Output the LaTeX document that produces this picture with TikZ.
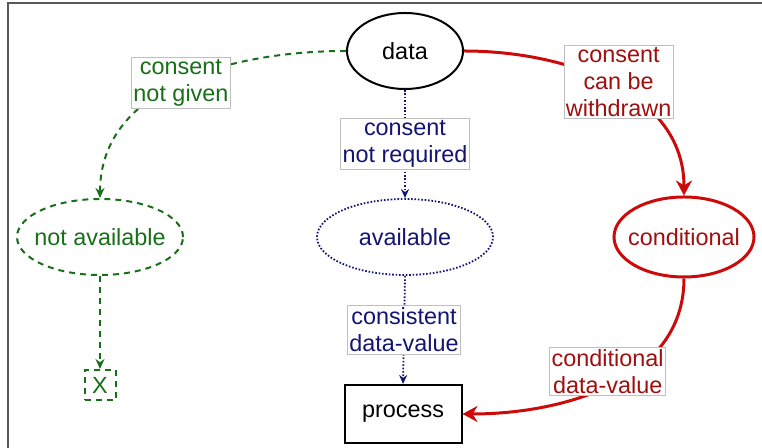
\documentclass[tikz,border=0pt]{standalone}
\usepackage{fontspec}
\setmainfont{Liberation Sans}
\usetikzlibrary{arrows.meta,shapes.geometric}

\definecolor{nogreen}{RGB}{25,110,25}
\definecolor{reqnavy}{RGB}{20,20,115}
\definecolor{wdred}{RGB}{205,10,10}
\definecolor{wdtext}{RGB}{160,15,15}

\begin{document}
\begin{tikzpicture}[x=0.5pt, y=0.5pt,
		font=\fontsize{11.7}{13.5}\selectfont,
		state/.style={ellipse, inner xsep=-4pt, inner ysep=0pt},
		edgelabel/.style={draw=black!25, solid, line width=0.4pt, fill=white, inner sep=1pt, align=center},
		nogo/.style={draw=nogreen, text=nogreen, dash pattern=on 3pt off 2.5pt, line width=1pt},
		req/.style={draw=reqnavy, text=reqnavy, dash pattern=on 0.8pt off 0.9pt, line width=0.9pt},
		wd/.style={draw=wdred, text=wdtext, line width=1.5pt},
		frame/.style={draw=black!65, line width=1pt}]
		%%%%% START %%%%%
		
		\useasboundingbox (0,0) rectangle (762,448);
		\draw[frame] (8,0) -- (8,445) -- (762,445);
		
		\node[state, draw=black, line width=1pt, minimum width=58pt, minimum height=38pt] (data) at (405,397) {data};
		
		\node[state, nogo, minimum width=83pt, minimum height=38pt] (notavail) at (100,211) {not available};
		\node[state, req, minimum width=88pt, minimum height=38pt] (avail) at (405,211) {available};
		\node[state, wd, minimum width=70pt, minimum height=40pt] (cond) at (684,211) {conditional};
		
		\node[draw, line width=1pt, minimum width=58.5pt, minimum height=29pt] (process) at (403,34) {process};
		\node[nogo, inner sep=0pt, minimum width=15.5pt, minimum height=15pt] (cross) at (100,63) {X};
		
		\draw[nogo, -{Stealth[length=5pt,width=4.5pt]}] (data.west) to[out=180, in=90]
			node[edgelabel, text=nogreen] {consent\\not given} (notavail.north);
		\draw[nogo, -{Stealth[length=5pt,width=4.5pt]}] (notavail.south) -- (cross.north);
		
		\draw[req, -{Stealth[length=4.5pt,width=4pt]}] (data.south) --
			node[edgelabel, text=reqnavy] {consent\\not required} (avail.north);
		\draw[req, -{Stealth[length=4.5pt,width=4pt]}] (avail.south) --
			node[edgelabel, text=reqnavy] {consistent\\data-value} (process.north);
		
		\draw[wd, -{Stealth[length=7.5pt,width=8pt]}] (data.east) to[out=0, in=90]
			node[edgelabel, text=wdtext, xshift=3pt, yshift=1.5pt] {consent\\can be\\withdrawn} (cond.north);
		\draw[wd, -{Stealth[length=7.5pt,width=8pt]}] (cond.south) to[out=-90, in=0]
			node[edgelabel, text=wdtext, pos=.45, xshift=-8pt, yshift=3pt] {conditional\\data-value} (process.east);
		
		%%%%% END %%%%%
	\end{tikzpicture}
\end{document}
